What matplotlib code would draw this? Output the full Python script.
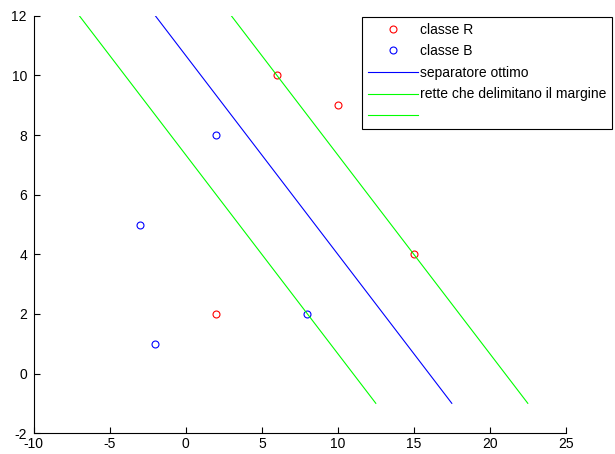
import matplotlib
matplotlib.use('Agg')
import matplotlib.pyplot as plt

plt.rcParams['font.family'] = ['Liberation Sans', 'DejaVu Sans']
plt.rcParams['font.size'] = 10
plt.rcParams['axes.unicode_minus'] = False

# punti delle due classi
rx = [6, 10, 15, 2]
ry = [10, 9, 4, 2]
bx = [2, -3, -2, 8]
by = [8, 5, 1, 2]

# rette (estremi)
sep_x = [-2, 17.5]
sep_y = [12, -1]
m1_x = [-7, 12.5]
m1_y = [12, -1]
m2_x = [3, 22.5]
m2_y = [12, -1]

labels = ['classe R', 'classe B', 'separatore ottimo', 'rette che delimitano il margine', ' ']

fig = plt.figure(figsize=(6.15, 4.54), dpi=100)
ax = fig.add_axes([0.055, 0.046, 0.865, 0.919])

h1, = ax.plot(rx, ry, 'o', color='red', mfc='none', ms=5, mew=0.8)
h2, = ax.plot(bx, by, 'o', color='blue', mfc='none', ms=5, mew=0.8)
h3, = ax.plot(sep_x, sep_y, '-', color='blue', lw=0.8)
h4, = ax.plot(m1_x, m1_y, '-', color='#00ff00', lw=0.8)
h5, = ax.plot(m2_x, m2_y, '-', color='#00ff00', lw=0.8)

ax.set_xlim(-10, 25)
ax.set_ylim(-2, 12)
ax.set_xticks(range(-10, 26, 5))
ax.set_yticks(range(-2, 13, 2))
ax.spines['top'].set_visible(False)
ax.spines['right'].set_visible(False)
ax.tick_params(direction='in', length=4, width=0.8)
ax.tick_params(axis='x', pad=3)
ax.tick_params(axis='y', pad=5)

leg = ax.legend([h1, h2, h3, h4, h5], labels, loc='upper right',
                bbox_to_anchor=(612/615, 1 - 17/454),
                bbox_transform=fig.transFigure, fancybox=False, framealpha=1,
                edgecolor='black', handlelength=3.6, handletextpad=0.15,
                borderaxespad=0, labelspacing=0.55, borderpad=0.4)
leg.get_frame().set_linewidth(0.8)

fig.savefig('out.png', dpi=100)
